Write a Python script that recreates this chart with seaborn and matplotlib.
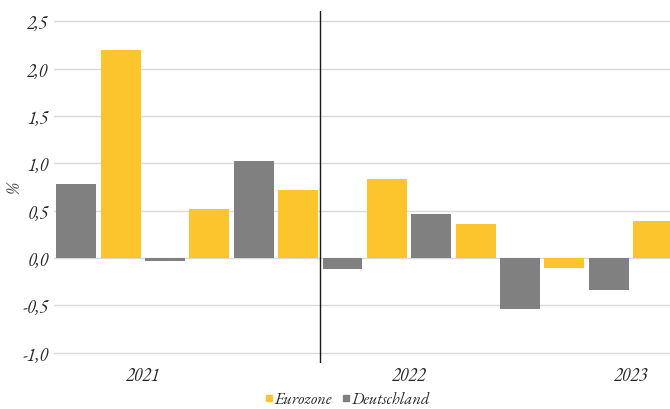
import matplotlib
matplotlib.use("Agg")
import matplotlib.pyplot as plt
from matplotlib.lines import Line2D
from matplotlib.ticker import FuncFormatter, MultipleLocator
import seaborn as sns
import pandas as pd

# ---- data ----
periods = ["P1", "P2", "P3", "P4", "P5", "P6", "P7"]
deutschland = [0.78, -0.03, 1.02, -0.12, 0.47, -0.54, -0.34]
eurozone = [2.20, 0.52, 0.72, 0.83, 0.36, -0.11, 0.39]
year_labels = ["2021", "2022", "2023"]
year_ticks = [0.5, 3.5, 6.0]
series_names = ["Eurozone", "Deutschland"]

df = pd.DataFrame({
    "period": periods * 2,
    "value": deutschland + eurozone,
    "series": ["Deutschland"] * len(periods) + ["Eurozone"] * len(periods),
})

YELLOW = "#FCC52E"
GREY = "#808080"
palette = {"Eurozone": YELLOW, "Deutschland": GREY}

sns.set_theme(style="white")
plt.rcParams["font.family"] = ["EB Garamond", "DejaVu Serif"]
plt.rcParams["font.style"] = "italic"

fig = plt.figure(figsize=(6.7, 4.1), dpi=100)
ax = fig.add_axes([54 / 670, 1 - 364 / 410, 1 - 54 / 670, (364 - 12) / 410])

sns.barplot(data=df, x="period", y="value", hue="series",
            hue_order=["Deutschland", "Eurozone"], palette=palette,
            width=1.0, gap=0.1, saturation=1, legend=False, ax=ax,
            linewidth=0, zorder=3)

ax.set_xlim(-0.5, 6.44)
ax.set_ylim(-1.109, 2.609)
ax.yaxis.set_major_locator(MultipleLocator(0.5))
ax.yaxis.set_major_formatter(FuncFormatter(lambda v, p: f"{v:.1f}".replace(".", ",")))
ax.grid(axis="y", color="#d9d9d9", linewidth=1, zorder=0)
ax.grid(axis="x", visible=False)
for s in ax.spines.values():
    s.set_visible(False)

ax.axvline(2.5, color="#1a1a1a", linewidth=1, zorder=4)

ax.set_xticks(year_ticks)
ax.set_xticklabels(year_labels, fontsize=13, style="italic")
ax.tick_params(axis="x", length=0, pad=2)
ax.tick_params(axis="y", length=0, pad=4, labelsize=13)
for t in ax.get_yticklabels():
    t.set_style("italic")
ax.set_xlabel("")
ax.set_ylabel("")
fig.text(15 / 670, 1 - 188 / 410, "%", rotation=90, ha="center", va="center",
         fontsize=13, style="italic")

handles = [Line2D([], [], marker="s", linestyle="none", markersize=4.5,
                  color=palette[n]) for n in series_names]
fig.legend(handles, series_names, loc="center", bbox_to_anchor=(347 / 670, 1 - 401 / 410),
           ncol=2, frameon=False, fontsize=11.8, handletextpad=0.05, columnspacing=0.5,
           handlelength=0.6, borderaxespad=0)

fig.savefig("out.png", dpi=100)
